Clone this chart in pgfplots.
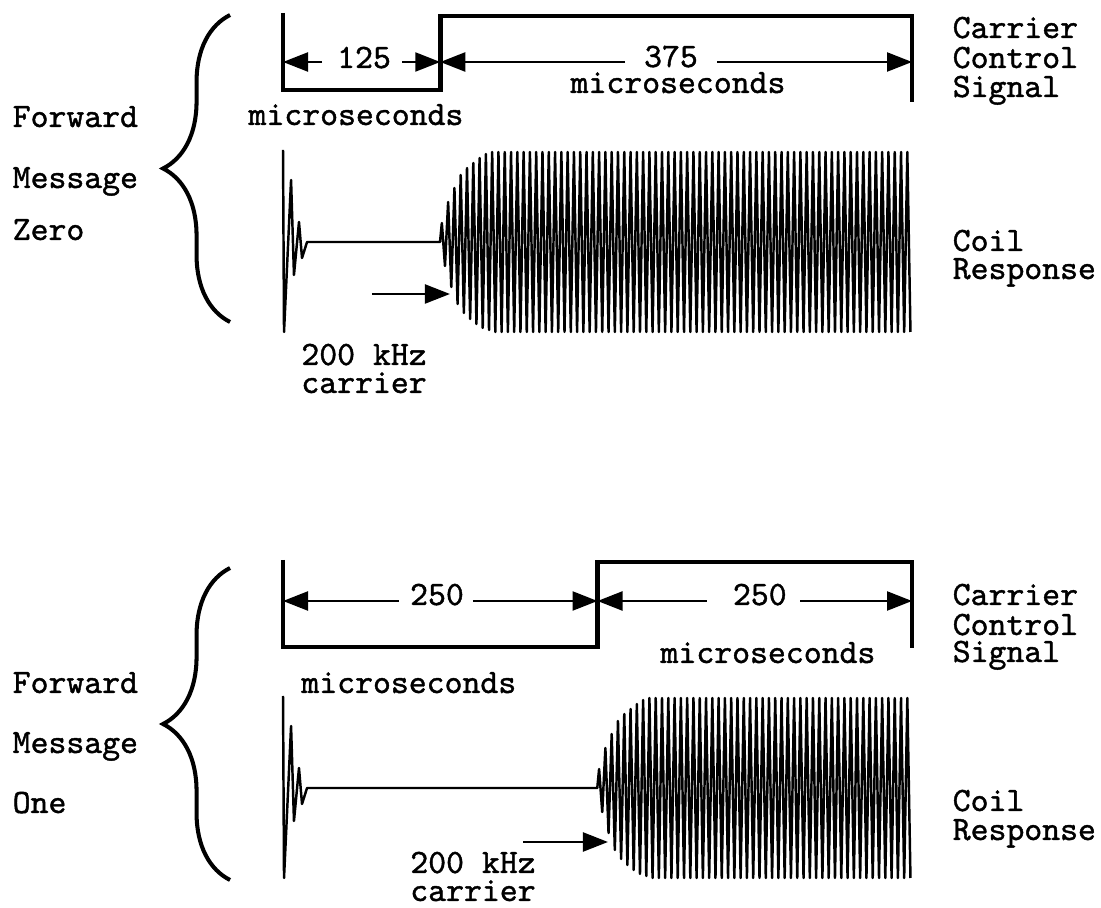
\documentclass[border=0pt]{standalone}
\usepackage{pgfplots}
\pgfplotsset{compat=1.18}
\usepackage{fontspec}
\newfontfamily\cour{Latin Modern Mono}[FakeBold=1.2]
\usetikzlibrary{arrows.meta,decorations.pathreplacing}
\begin{document}
\begin{tikzpicture}[font=\cour\fontsize{9.7}{9.7}\selectfont, every node/.style={inner sep=0pt}]
\begin{axis}[width=11.01cm,height=9.08cm,scale only axis,hide axis,clip=false,
  xmin=-224.96,xmax=650.2,ymin=0,ymax=908,
  dim/.style={black,line width=0.65pt,-{Triangle[length=2.5mm,width=1.9mm]}},
  step/.style={black,line width=1.3pt,line join=miter},
  coil/.style={black,line width=0.7pt,line join=round}]
\path (rel axis cs:0,0) rectangle (rel axis cs:1,1);
% ---------------- Forward Message Zero ----------------
\addplot[step] coordinates {(0,895)(0,818)(125,818)(125,892)(500,892)(500,806)};
\addplot[dim] coordinates {(31,846)(0,846)};
\addplot[dim] coordinates {(94.6,846)(125,846)};
\addplot[dim] coordinates {(271.9,846)(125,846)};
\addplot[dim] coordinates {(345,846)(500,846)};
\node[anchor=base] at (axis cs:64.4,840) {125};
\node[anchor=base] at (axis cs:308.4,841) {375};
\node[anchor=base] at (axis cs:314,815) {microseconds};
\node[anchor=base] at (axis cs:58,783) {microseconds};
\addplot[coil] coordinates {(0,758)(0.8,576)(6.4,728)(8.7,633)(12.7,686)(15.1,650)(19.1,666)(124.8,666)
(126.25,685)(128.75,642)(131.25,706)(133.75,621)(136.25,720)(138.75,604)(141.25,733)(143.75,595)
(146.25,740)(148.75,589)(151.25,745)(153.75,584)(156.25,750)(158.75,580)(161.25,754)(163.75,578)
(166.25,756)(168.75,576)
(171.25,756)(173.75,576)(176.25,756)(178.75,576)(181.25,756)(183.75,576)(186.25,756)(188.75,576)(191.25,756)(193.75,576)
(196.25,756)(198.75,576)(201.25,756)(203.75,576)(206.25,756)(208.75,576)(211.25,756)(213.75,576)(216.25,756)(218.75,576)
(221.25,756)(223.75,576)(226.25,756)(228.75,576)(231.25,756)(233.75,576)(236.25,756)(238.75,576)(241.25,756)(243.75,576)
(246.25,756)(248.75,576)(251.25,756)(253.75,576)(256.25,756)(258.75,576)(261.25,756)(263.75,576)(266.25,756)(268.75,576)
(271.25,756)(273.75,576)(276.25,756)(278.75,576)(281.25,756)(283.75,576)(286.25,756)(288.75,576)(291.25,756)(293.75,576)
(296.25,756)(298.75,576)(301.25,756)(303.75,576)(306.25,756)(308.75,576)(311.25,756)(313.75,576)(316.25,756)(318.75,576)
(321.25,756)(323.75,576)(326.25,756)(328.75,576)(331.25,756)(333.75,576)(336.25,756)(338.75,576)(341.25,756)(343.75,576)
(346.25,756)(348.75,576)(351.25,756)(353.75,576)(356.25,756)(358.75,576)(361.25,756)(363.75,576)(366.25,756)(368.75,576)
(371.25,756)(373.75,576)(376.25,756)(378.75,576)(381.25,756)(383.75,576)(386.25,756)(388.75,576)(391.25,756)(393.75,576)
(396.25,756)(398.75,576)(401.25,756)(403.75,576)(406.25,756)(408.75,576)(411.25,756)(413.75,576)(416.25,756)(418.75,576)
(421.25,756)(423.75,576)(426.25,756)(428.75,576)(431.25,756)(433.75,576)(436.25,756)(438.75,576)(441.25,756)(443.75,576)
(446.25,756)(448.75,576)(451.25,756)(453.75,576)(456.25,756)(458.75,576)(461.25,756)(463.75,576)(466.25,756)(468.75,576)
(471.25,756)(473.75,576)(476.25,756)(478.75,576)(481.25,756)(483.75,576)(486.25,756)(488.75,576)(491.25,756)(493.75,576)
(496.25,756)(498.75,576)};
\addplot[dim] coordinates {(70.7,614)(132.7,614)};
\node[anchor=base] at (axis cs:64.4,543) {200 kHz};
\node[anchor=base] at (axis cs:64.4,515) {carrier};
\node[anchor=base west] at (axis cs:531.8,870) {Carrier};
\node[anchor=base west] at (axis cs:531.8,840) {Control};
\node[anchor=base west] at (axis cs:531.8,811) {Signal};
\node[anchor=base west] at (axis cs:531.8,657) {Coil};
\node[anchor=base west] at (axis cs:531.8,629) {Response};
\node[anchor=base west] at (axis cs:-215.4,781) {Forward};
\node[anchor=base west] at (axis cs:-215.4,720) {Message};
\node[anchor=base west] at (axis cs:-215.4,668) {Zero};
\addplot[black,line width=1.15pt,decorate,decoration={brace,amplitude=6.7mm}] coordinates {(-42.1,586)(-42.1,893)};
% ---------------- Forward Message One ----------------
\addplot[step] coordinates {(0,348)(0,261)(250,261)(250,346)(500,346)(500,260)};
\addplot[dim] coordinates {(92,307)(0,307)};
\addplot[dim] coordinates {(151,307)(250,307)};
\addplot[dim] coordinates {(337,307)(250,307)};
\addplot[dim] coordinates {(411,307)(500,307)};
\node[anchor=base] at (axis cs:122.4,303) {250};
\node[anchor=base] at (axis cs:379,303) {250};
\node[anchor=base] at (axis cs:385.5,245) {microseconds};
\node[anchor=base] at (axis cs:100,215) {microseconds};
\addplot[coil] coordinates {(0,212)(0.8,30)(6.4,182)(8.7,87)(12.7,140)(15.1,104)(19.1,120)(249.8,120)
(251.25,139)(253.75,96)(256.25,160)(258.75,75)(261.25,174)(263.75,58)(266.25,187)(268.75,49)
(271.25,194)(273.75,43)(276.25,199)(278.75,38)(281.25,204)(283.75,34)(286.25,208)(288.75,32)
(291.25,210)(293.75,30)
(296.25,210)(298.75,30)(301.25,210)(303.75,30)(306.25,210)(308.75,30)(311.25,210)(313.75,30)(316.25,210)(318.75,30)
(321.25,210)(323.75,30)(326.25,210)(328.75,30)(331.25,210)(333.75,30)(336.25,210)(338.75,30)(341.25,210)(343.75,30)
(346.25,210)(348.75,30)(351.25,210)(353.75,30)(356.25,210)(358.75,30)(361.25,210)(363.75,30)(366.25,210)(368.75,30)
(371.25,210)(373.75,30)(376.25,210)(378.75,30)(381.25,210)(383.75,30)(386.25,210)(388.75,30)(391.25,210)(393.75,30)
(396.25,210)(398.75,30)(401.25,210)(403.75,30)(406.25,210)(408.75,30)(411.25,210)(413.75,30)(416.25,210)(418.75,30)
(421.25,210)(423.75,30)(426.25,210)(428.75,30)(431.25,210)(433.75,30)(436.25,210)(438.75,30)(441.25,210)(443.75,30)
(446.25,210)(448.75,30)(451.25,210)(453.75,30)(456.25,210)(458.75,30)(461.25,210)(463.75,30)(466.25,210)(468.75,30)
(471.25,210)(473.75,30)(476.25,210)(478.75,30)(481.25,210)(483.75,30)(486.25,210)(488.75,30)(491.25,210)(493.75,30)
(496.25,210)(498.75,30)};
\addplot[dim] coordinates {(190.8,66)(258.3,66)};
\node[anchor=base] at (axis cs:151,35) {200 kHz};
\node[anchor=base] at (axis cs:151,7) {carrier};
\node[anchor=base west] at (axis cs:531.8,303) {Carrier};
\node[anchor=base west] at (axis cs:531.8,273) {Control};
\node[anchor=base west] at (axis cs:531.8,246) {Signal};
\node[anchor=base west] at (axis cs:531.8,97) {Coil};
\node[anchor=base west] at (axis cs:531.8,68) {Response};
\node[anchor=base west] at (axis cs:-215.4,215) {Forward};
\node[anchor=base west] at (axis cs:-215.4,155) {Message};
\node[anchor=base west] at (axis cs:-215.4,95) {One};
\addplot[black,line width=1.15pt,decorate,decoration={brace,amplitude=6.7mm}] coordinates {(-42.1,28)(-42.1,340)};
\end{axis}
\end{tikzpicture}
\end{document}
